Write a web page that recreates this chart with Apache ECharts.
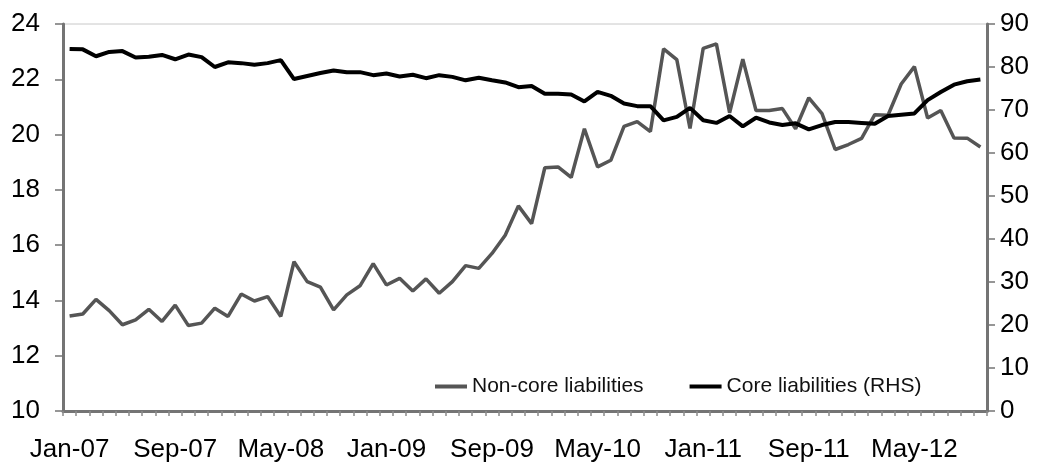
<!DOCTYPE html>
<html>
<head>
<meta charset="utf-8">
<script src="https://cdn.jsdelivr.net/npm/echarts@6/dist/echarts.min.js"></script>
<style>
html,body{margin:0;padding:0;background:#fff;}
#chart{width:1044px;height:467px;}
</style>
</head>
<body>
<div id="chart"></div>
<script>
var months = ["Jan-07","Feb-07","Mar-07","Apr-07","May-07","Jun-07","Jul-07","Aug-07","Sep-07","Oct-07","Nov-07","Dec-07",
"Jan-08","Feb-08","Mar-08","Apr-08","May-08","Jun-08","Jul-08","Aug-08","Sep-08","Oct-08","Nov-08","Dec-08",
"Jan-09","Feb-09","Mar-09","Apr-09","May-09","Jun-09","Jul-09","Aug-09","Sep-09","Oct-09","Nov-09","Dec-09",
"Jan-10","Feb-10","Mar-10","Apr-10","May-10","Jun-10","Jul-10","Aug-10","Sep-10","Oct-10","Nov-10","Dec-10",
"Jan-11","Feb-11","Mar-11","Apr-11","May-11","Jun-11","Jul-11","Aug-11","Sep-11","Oct-11","Nov-11","Dec-11",
"Jan-12","Feb-12","Mar-12","Apr-12","May-12","Jun-12","Jul-12","Aug-12","Sep-12","Oct-12"];

var nonCore = [13.44,13.51,14.04,13.63,13.12,13.30,13.68,13.24,13.83,13.09,13.18,13.72,
13.42,14.23,13.98,14.14,13.42,15.40,14.68,14.48,13.66,14.20,14.53,15.33,
14.56,14.80,14.34,14.78,14.26,14.68,15.26,15.16,15.70,16.36,17.42,16.78,
18.80,18.83,18.45,20.21,18.83,19.07,20.30,20.47,20.11,23.10,22.71,20.22,
23.12,23.28,20.79,22.73,20.87,20.87,20.94,20.21,21.33,20.76,19.46,19.64,
19.86,20.72,20.70,21.83,22.46,20.60,20.87,19.88,19.87,19.55];

var core = [84.2,84.1,82.5,83.5,83.7,82.2,82.4,82.8,81.8,82.9,82.3,80.0,
81.1,80.9,80.5,80.9,81.6,77.2,77.9,78.6,79.2,78.8,78.8,78.1,
78.5,77.8,78.2,77.4,78.1,77.7,76.9,77.5,76.9,76.4,75.3,75.6,
73.8,73.8,73.6,72.0,74.2,73.3,71.5,70.9,70.9,67.6,68.4,70.5,
67.6,67.0,68.6,66.2,68.2,67.1,66.5,66.9,65.5,66.5,67.2,67.2,
67.0,66.8,68.6,68.9,69.2,72.3,74.2,75.9,76.7,77.1];

var leftTicks = {min: 10, max: 24, step: 2};
var rightTicks = {min: 0, max: 90, step: 10};

var FONT = "Liberation Sans, Arial, Helvetica, sans-serif";
var axisGrey = "#747474";

var chart = echarts.init(document.getElementById('chart'), null, {renderer: 'canvas'});
chart.setOption({
  animation: false,
  backgroundColor: '#ffffff',
  grid: {left: 63, right: 57, top: 24, bottom: 56, show: true, borderColor: '#c8c8c8', borderWidth: 1, backgroundColor: 'transparent'},
  legend: {
    left: 430, top: 371,
    itemWidth: 32, itemHeight: 4, itemGap: 46,
    icon: 'rect',
    textStyle: {fontFamily: FONT, fontSize: 21, color: '#111'},
    data: [
      {name: 'Non-core liabilities', itemStyle: {color: '#555555'}},
      {name: 'Core liabilities (RHS)', itemStyle: {color: '#000000'}}
    ]
  },
  xAxis: {
    type: 'category',
    data: months,
    boundaryGap: true,
    axisLine: {lineStyle: {color: axisGrey, width: 3}},
    axisTick: {show: true, interval: 0, length: 5, lineStyle: {color: '#8a8a8a', width: 1.5}},
    axisLabel: {interval: 7, fontFamily: FONT, fontSize: 26, color: '#000', margin: 26}
  },
  yAxis: [
    {
      type: 'value', position: 'left',
      min: leftTicks.min, max: leftTicks.max, interval: leftTicks.step,
      splitLine: {show: false},
      axisLine: {show: true, lineStyle: {color: axisGrey, width: 3}},
      axisTick: {show: true, length: 8, lineStyle: {color: axisGrey, width: 1.5}},
      axisLabel: {fontFamily: FONT, fontSize: 26, color: '#000', margin: 23}
    },
    {
      type: 'value', position: 'right',
      min: rightTicks.min, max: rightTicks.max, interval: rightTicks.step,
      splitLine: {show: false},
      axisLine: {show: true, lineStyle: {color: axisGrey, width: 3}},
      axisTick: {show: true, length: 8, lineStyle: {color: axisGrey, width: 1.5}},
      axisLabel: {fontFamily: FONT, fontSize: 26, color: '#000', margin: 13}
    }
  ],
  series: [
    {
      name: 'Non-core liabilities', type: 'line', yAxisIndex: 0,
      data: nonCore, showSymbol: false, symbol: 'none',
      lineStyle: {color: '#555555', width: 3.5},
      itemStyle: {color: '#555555'}, z: 2
    },
    {
      name: 'Core liabilities (RHS)', type: 'line', yAxisIndex: 1,
      data: core, showSymbol: false, symbol: 'none',
      lineStyle: {color: '#000000', width: 4},
      itemStyle: {color: '#000000'}, z: 3
    }
  ]
});
</script>
</body>
</html>
